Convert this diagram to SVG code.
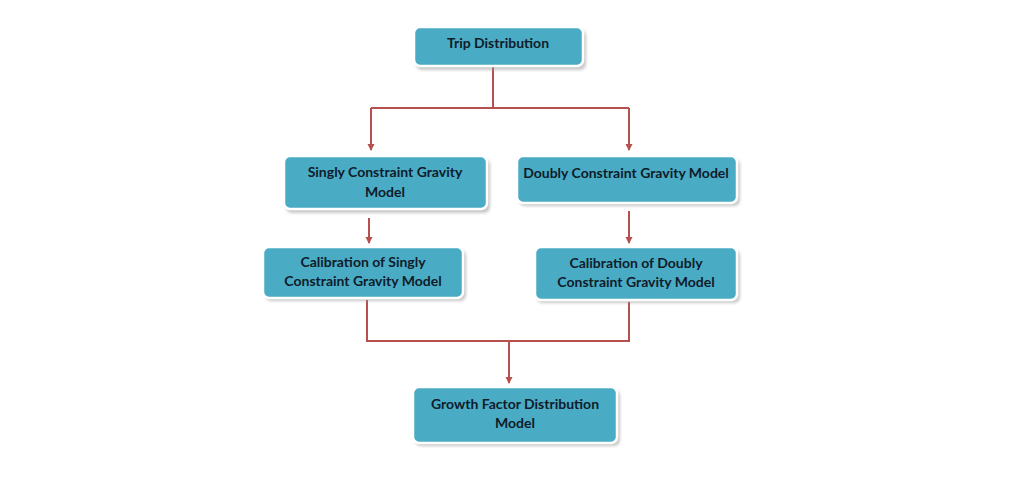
<svg xmlns="http://www.w3.org/2000/svg" width="1024" height="500" viewBox="0 0 1024 500">
<style>
.box{fill:#4AABC5;stroke:#ffffff;stroke-width:2.5}
.sh{fill:#9a9a9a;opacity:0.55}
.t{font-family:Lato,"Open Sans","Liberation Sans",sans-serif;font-weight:bold;font-size:14px;fill:#0f1c2a;text-anchor:middle}
.c{fill:none;stroke:#B5504E;stroke-width:2}
</style>
<defs>
<marker id="ah" markerWidth="8" markerHeight="8" refX="6" refY="4" orient="auto" markerUnits="userSpaceOnUse">
<path d="M0,0.5 L7,4 L0,7.5 z" fill="#B5504E"/>
</marker>
<filter id="blur" x="-10%" y="-10%" width="120%" height="130%"><feGaussianBlur stdDeviation="1.5"/></filter>
</defs>
<rect width="1024" height="500" fill="#ffffff"/>
<g id="connectors">
<path class="c" d="M493,67 V108"/>
<path class="c" d="M371,108 H629"/>
<path class="c" d="M371,108 V150" marker-end="url(#ah)"/>
<path class="c" d="M629,108 V150" marker-end="url(#ah)"/>
<path class="c" d="M369,218 V243" marker-end="url(#ah)"/>
<path class="c" d="M629,211 V243" marker-end="url(#ah)"/>
<path class="c" d="M367,300 V341 H629 V302"/>
<path class="c" d="M509,341 V383" marker-end="url(#ah)"/>
</g>
<g id="trip">
<rect class="sh" x="416" y="30" width="170" height="40" rx="6" filter="url(#blur)"/>
<rect class="box" x="414" y="27" width="169" height="39" rx="6"/>
<text class="t" x="498" y="48">Trip Distribution</text>
</g>
<g id="singly">
<rect class="sh" x="286" y="159" width="204" height="54" rx="6" filter="url(#blur)"/>
<rect class="box" x="284" y="156" width="203" height="53" rx="6"/>
<text class="t" x="385" y="177">Singly Constraint Gravity</text>
<text class="t" x="385" y="197">Model</text>
</g>
<g id="doubly">
<rect class="sh" x="519" y="159" width="221" height="47" rx="6" filter="url(#blur)"/>
<rect class="box" x="517" y="156" width="220" height="47" rx="6"/>
<text class="t" x="626" y="178">Doubly Constraint Gravity Model</text>
</g>
<g id="cal-singly">
<rect class="sh" x="265" y="250" width="201" height="51" rx="6" filter="url(#blur)"/>
<rect class="box" x="263" y="247" width="200" height="51" rx="6"/>
<text class="t" x="363" y="267">Calibration of Singly</text>
<text class="t" x="363" y="286">Constraint Gravity Model</text>
</g>
<g id="cal-doubly">
<rect class="sh" x="537" y="250" width="203" height="53" rx="6" filter="url(#blur)"/>
<rect class="box" x="535" y="247" width="202" height="53" rx="6"/>
<text class="t" x="636" y="268">Calibration of Doubly</text>
<text class="t" x="636" y="287">Constraint Gravity Model</text>
</g>
<g id="growth">
<rect class="sh" x="415" y="390" width="205" height="56" rx="6" filter="url(#blur)"/>
<rect class="box" x="413" y="387" width="204" height="56" rx="6"/>
<text class="t" x="515" y="409">Growth Factor Distribution</text>
<text class="t" x="515" y="428">Model</text>
</g>
</svg>
